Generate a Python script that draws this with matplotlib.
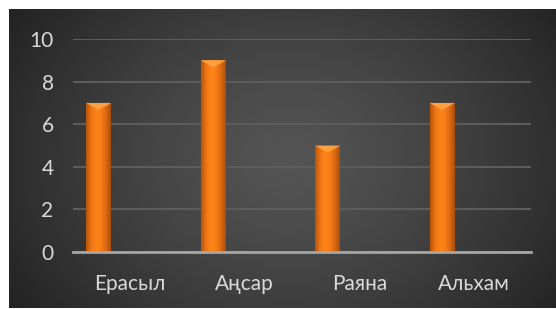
import matplotlib
matplotlib.use('Agg')
import matplotlib.pyplot as plt
import numpy as np
from matplotlib.colors import LinearSegmentedColormap
from matplotlib.patches import Polygon

names = ['Ерасыл', 'Аңсар', 'Раяна', 'Альхам']
values = [7, 9, 5, 7]
yticks = [0, 2, 4, 6, 8, 10]

plt.rcParams['font.family'] = ['Lato', 'DejaVu Sans']

fig = plt.figure(figsize=(5.56, 3.09), dpi=100)
fig.patch.set_facecolor('white')

# dark radial background
bg = fig.add_axes([9/556, 1/309, 547/556, 299/309])
bg.set_axis_off()
yy, xx = np.mgrid[0:299, 0:547]
r = np.sqrt(((xx - 280) / 330.0)**2 + ((yy - 150) / 260.0)**2)
r = np.clip(r, 0, 1)
shade = 0.33 - 0.19 * r**1.3
bg.imshow(np.dstack([shade, shade, shade]), aspect='auto', interpolation='bilinear')

ax = fig.add_axes([73/556, 57/309, 458/556, 213/309])
ax.set_facecolor('none')

x = np.arange(len(names))
bw = 0.218
off = -0.275

bar_cmap = LinearSegmentedColormap.from_list('bar', ['#b4540c', '#ee7414', '#fd8519', '#f87e17', '#dc6a12', '#a94e0c'])
grad = np.linspace(0, 1, 64).reshape(1, -1)

bars = ax.bar(x + off, values, width=bw, color='#f27a16', zorder=3)
for rect, v in zip(bars, values):
    x0 = rect.get_x()
    x1 = x0 + rect.get_width()
    im = ax.imshow(grad, cmap=bar_cmap, extent=[x0, x1, 0, v], aspect='auto', zorder=4, interpolation='bilinear')
    im.set_clip_path(rect)
    d = 0.32
    tri = Polygon([[x0, v], [x1, v], [x1 - 0.03, v - 0.1], [(x0 + x1) / 2, v - d], [x0 + 0.03, v - 0.1]],
                  closed=True, facecolor='#ffa548', edgecolor='none', zorder=5, alpha=0.9)
    ax.add_patch(tri)

ax.set_xlim(-0.5, len(names) - 0.5)
ax.set_ylim(0, 10)
ax.set_yticks(yticks)
ax.set_xticks(x)
ax.set_xticklabels(names)
ax.yaxis.grid(True, color='#5c5c5c', linewidth=1.5, zorder=1)
ax.set_axisbelow(True)
for s in ['top', 'right', 'left']:
    ax.spines[s].set_visible(False)
ax.spines['bottom'].set_color('#a6a6a6')
ax.spines['bottom'].set_linewidth(2)
ax.spines['bottom'].set_zorder(6)
ax.tick_params(axis='both', length=0, colors='#d9d9d9', labelsize=15)
ax.tick_params(axis='y', pad=14)
ax.tick_params(axis='x', pad=16)

fig.savefig('out.png', dpi=100, facecolor=fig.get_facecolor())
